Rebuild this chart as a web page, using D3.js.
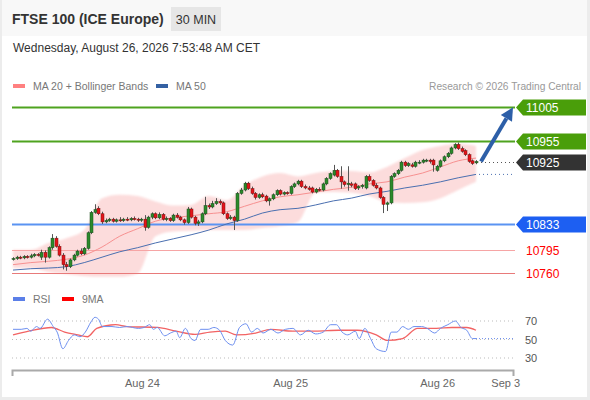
<!DOCTYPE html>
<html>
<head>
<meta charset="utf-8">
<script src="https://cdn.jsdelivr.net/npm/d3@7"></script>
<style>
  body { margin: 0; background: #fff; font-family: "Liberation Sans", Arial, sans-serif; }
  svg { display: block; }
</style>
</head>
<body>
<svg width="590" height="400"></svg>
<script>
// 30 min candles, [open, high, low, close]
var ohlc = [
  [10781,10784,10779,10782],[10782,10786,10780,10784],[10784,10786,10781,10783],[10783,10787,10781,10785],
  [10785,10787,10782,10784],[10784,10789,10782,10786],[10786,10790,10784,10788],[10788,10790,10785,10787],
  [10784,10795,10780,10791],[10791,10794,10776,10784],[10784,10800,10782,10798],[10798,10818,10795,10812],
  [10812,10815,10798,10800],[10800,10803,10785,10787],[10787,10790,10766,10773],[10773,10777,10764,10770],
  [10770,10782,10768,10780],[10780,10789,10778,10787],[10787,10795,10785,10793],[10793,10797,10787,10789],
  [10789,10799,10787,10797],[10797,10822,10795,10820],[10820,10852,10818,10850],[10850,10862,10848,10854],
  [10856,10859,10846,10848],[10848,10851,10833,10836],[10836,10841,10834,10838],[10838,10842,10836,10840],
  [10840,10842,10835,10837],[10837,10841,10835,10839],[10839,10843,10836,10838],[10838,10842,10836,10840],
  [10840,10843,10837,10839],[10839,10843,10837,10841],[10841,10844,10838,10840],[10840,10842,10836,10839],
  [10839,10842,10836,10840],[10840,10846,10823,10828],[10828,10845,10826,10843],[10843,10850,10840,10848],
  [10848,10850,10840,10842],[10842,10850,10840,10847],[10847,10849,10838,10840],[10840,10844,10837,10841],
  [10841,10843,10836,10838],[10838,10848,10836,10846],[10846,10849,10841,10843],[10843,10845,10837,10839],
  [10839,10841,10832,10835],[10835,10858,10833,10855],[10855,10857,10841,10843],[10843,10845,10831,10834],
  [10834,10839,10830,10836],[10836,10850,10834,10848],[10848,10873,10846,10860],[10860,10863,10855,10858],
  [10858,10867,10856,10863],[10863,10871,10861,10866],[10866,10869,10861,10864],[10864,10866,10846,10848],
  [10848,10850,10839,10841],[10841,10846,10839,10843],[10843,10845,10824,10838],[10838,10880,10836,10878],
  [10878,10886,10876,10883],[10883,10895,10881,10893],[10893,10895,10883,10885],[10885,10888,10876,10878],
  [10878,10880,10869,10872],[10872,10878,10870,10876],[10876,10879,10871,10873],[10874,10876,10865,10867],
  [10867,10872,10860,10870],[10870,10878,10868,10876],[10876,10884,10874,10882],[10882,10884,10875,10877],
  [10877,10881,10875,10879],[10879,10881,10876,10878],[10878,10890,10876,10888],[10888,10894,10886,10892],
  [10892,10898,10890,10896],[10896,10898,10886,10888],[10888,10891,10884,10886],[10886,10889,10882,10884],
  [10886,10888,10878,10880],[10880,10886,10878,10884],[10884,10887,10881,10883],[10883,10894,10881,10892],
  [10892,10902,10890,10900],[10900,10909,10898,10907],[10905,10920,10903,10912],[10912,10914,10901,10903],
  [10903,10918,10885,10895],[10895,10897,10888,10891],[10891,10918,10882,10893],[10892,10895,10887,10890],
  [10892,10894,10883,10885],[10886,10890,10883,10888],[10888,10892,10885,10890],[10886,10905,10884,10903],
  [10903,10906,10895,10897],[10897,10899,10888,10890],[10890,10893,10884,10886],[10886,10888,10870,10872],
  [10872,10874,10849,10862],[10862,10866,10852,10864],[10864,10905,10862,10903],[10903,10909,10901,10907],
  [10907,10914,10905,10912],[10912,10926,10910,10924],[10924,10926,10917,10919],[10919,10924,10917,10922],
  [10920,10923,10916,10918],[10918,10926,10916,10924],[10923,10927,10921,10924],[10924,10929,10922,10927],
  [10926,10929,10924,10927],[10927,10929,10922,10925],[10927,10929,10910,10920],[10912,10920,10910,10918],
  [10918,10928,10916,10926],[10926,10934,10924,10932],[10932,10939,10930,10937],[10937,10947,10935,10945],
  [10945,10952,10943,10950],[10950,10953,10942,10944],[10944,10947,10938,10940],[10941,10943,10933,10935],
  [10935,10937,10923,10925],[10926,10928,10920,10922],[10923,10927,10921,10925]
];

// indicators read every 5 bars
var bandIdx = d3.range(0, 131, 5);
var ma20 = [10773,10776,10778,10781,10787,10799,10815,10826,10837,10842,10845,10848,10851,10859,
  10867,10873,10876,10880,10884,10887,10892,10895,10902,10908,10917,10926,10930];
var upperBand = [10795,10795,10805,10812,10824,10871,10876,10874,10866,10860,10861,10874,10868,10890,
  10903,10908,10903,10908,10911,10911,10909,10917,10930,10942,10948,10951,10948];
var lowerBand = [10768,10768,10762,10759,10756,10755,10755,10760,10815,10822,10823,10824,10824,10824,
  10827,10830,10836,10879,10880,10879,10874,10865,10864,10865,10871,10883,10895];
var ma50 = [10765,10767,10768,10770,10776,10784,10792,10798,10805,10811,10817,10824,10833,10840,
  10849,10854,10856,10861,10867,10871,10877,10881,10886,10890,10895,10901,10906];

var levels = [11005, 10955, 10925, 10833, 10795, 10760];
var target = 11005;

// [bar, value]
var rsi = [[0,61],[2.3,61],[3.9,62],[5,59],[6.6,64],[7.6,62],[9.7,72],[11.3,64],[12.4,58],[14,40],
  [15.6,49],[17.2,55],[18.8,53],[20.3,58],[21.9,69],[23,74],[24,72],[25.1,64],[27.8,64],[29.9,63],
  [32,64],[35.2,62],[36.8,63],[38.4,66],[39.4,61],[40.5,63],[42.6,54],[44.2,57],[45.8,59],[46.8,52],
  [48.4,62],[50,51],[51.1,49],[52.7,61],[54.8,61],[56.4,63],[58,60],[59.6,49],[61.7,44],[63.6,63],
  [65.4,67],[67,58],[68.6,62],[70.2,57],[72.4,61],[74.4,57],[76.5,61],[78.6,62],[80.7,55],[82.9,60],
  [85,56],[87.1,58],[89.2,66],[90.8,66],[92.4,58],[94,55],[96.1,59],[97.2,51],[98.8,62],[100.4,51],
  [102,40],[104.6,37],[106.2,58],[107.8,58],[109.4,64],[111,61],[112.6,64],[114.7,64],[116.3,62],
  [118.4,57],[120,62],[122.1,66],[124.2,70],[125.8,63],[127.4,60],[129,51],[130,51]];
var rsiMa = [[0,55],[4.4,59],[10.8,63],[14.5,58],[18.2,55],[20.9,53],[23.5,62],[28.8,66],[32,64],
  [40.5,63],[45.8,59],[51.1,55.5],[55.3,58],[59.6,59],[62.7,55],[68.1,57],[72.4,61],[78.6,59],[85,59],
  [91.4,60],[96.7,60],[102,55],[105.1,49],[109.4,51],[113.6,62],[118.9,62],[123.2,63],[127.4,63],[130,60]];
var rsiTicks = [70, 50, 30];

var dayBars = [36.2, 77.8, 119.1, 138.2];
var dayLabels = ["Aug 24", "Aug 25", "Aug 26", "Sep 3"];

var svg = d3.select("svg");
var font = '"Liberation Sans", Arial, sans-serif';

// frame
svg.append("rect").attr("width", 590).attr("height", 400).attr("fill", "#ececec");
svg.append("rect").attr("x", 2).attr("y", 0).attr("width", 585).attr("height", 397).attr("fill", "#fff");
svg.append("rect").attr("x", 2).attr("y", 0).attr("width", 585).attr("height", 36).attr("fill", "#f8f8f8");

// header
svg.append("text").attr("x", 12).attr("y", 24).attr("font-family", font)
  .attr("font-size", 14).attr("font-weight", "bold").attr("fill", "#333")
  .text("FTSE 100 (ICE Europe)");
svg.append("rect").attr("x", 171).attr("y", 7).attr("width", 50).attr("height", 24)
  .attr("fill", "#e6e6e6");
svg.append("text").attr("x", 196).attr("y", 24).attr("text-anchor", "middle")
  .attr("font-family", font).attr("font-size", 12.5).attr("fill", "#333").text("30 MIN");
svg.append("text").attr("x", 13).attr("y", 52).attr("font-family", font)
  .attr("font-size", 12).attr("fill", "#333")
  .text("Wednesday, August 26, 2026 7:53:48 AM CET");

// legend
function legend(g, xs, yy, color, label) {
  g.append("rect").attr("x", xs).attr("y", yy - 2).attr("width", 12).attr("height", 4).attr("fill", color);
  g.append("text").attr("x", xs + 20).attr("y", yy + 4).attr("font-family", font)
    .attr("font-size", 10.5).attr("fill", "#777").text(label);
}
legend(svg, 13, 86, "#ff8080", "MA 20 + Bollinger Bands");
legend(svg, 156, 86, "#3461a3", "MA 50");
svg.append("text").attr("x", 581).attr("y", 90).attr("text-anchor", "end")
  .attr("font-family", font).attr("font-size", 10.2).attr("fill", "#999")
  .text("Research \u00a9 2026 Trading Central");
legend(svg, 13, 299, "#5b7fe8", "RSI");
legend(svg, 62, 299, "#f00", "9MA");

// scales
var x = d3.scaleLinear().domain([0, 130]).range([13, 476]);
var y = d3.scaleLinear().domain([10743, 11023]).range([285, 95]);
var yR = d3.scaleLinear().domain([30, 70]).range([358, 321]);
var xEnd = 515;

// bollinger band
var defs = svg.append("defs");
defs.append("filter").attr("id", "soft").append("feGaussianBlur").attr("stdDeviation", 1.2);
var bandData = bandIdx.map(function(b, i) { return [b, upperBand[i], lowerBand[i]]; });
svg.append("path").datum(bandData)
  .attr("d", d3.area().x(function(d) { return x(d[0]); })
    .y0(function(d) { return y(d[2]); }).y1(function(d) { return y(d[1]); })
    .curve(d3.curveMonotoneX))
  .attr("fill", "#fcdcdc").attr("filter", "url(#soft)");

// level lines
var levelStyle = {
  11005: { line: "#4fa31f", w: 2, box: "#4a9e0a" },
  10955: { line: "#4fa31f", w: 2, box: "#4a9e0a" },
  10925: { line: "#555", w: 1, box: "#333", dotted: true },
  10833: { line: "#5a93f2", w: 2, box: "#1d5ff2" },
  10795: { line: "#f6a5a5", w: 1.2, text: "#f00" },
  10760: { line: "#e87a7a", w: 1.2, text: "#f00" }
};
levels.forEach(function(v) {
  var s = levelStyle[v], yy = Math.round(y(v)) + 0.5;
  if (s.dotted) {
    svg.append("line").attr("x1", x(130) + 5).attr("x2", xEnd).attr("y1", yy).attr("y2", yy)
      .attr("stroke", s.line).attr("stroke-dasharray", "1,3");
  } else {
    svg.append("line").attr("x1", 12).attr("x2", xEnd).attr("y1", yy).attr("y2", yy)
      .attr("stroke", s.line).attr("stroke-width", s.w);
  }
  if (s.box) {
    svg.append("path")
      .attr("d", "M516," + yy + "L523," + (yy - 8) + "H586V" + (yy + 8) + "H523Z")
      .attr("fill", s.box);
    svg.append("text").attr("x", 526).attr("y", yy + 4.5).attr("font-family", font)
      .attr("font-size", 12).attr("fill", "#fff").text(v);
  } else {
    svg.append("text").attr("x", 526).attr("y", yy + 4.5).attr("font-family", font)
      .attr("font-size", 12).attr("fill", s.text).text(v);
  }
});

// moving averages
var line = d3.line().x(function(d) { return x(d[0]); }).y(function(d) { return y(d[1]); })
  .curve(d3.curveMonotoneX);
svg.append("path").datum(bandIdx.map(function(b, i) { return [b, ma50[i]]; }))
  .attr("d", line).attr("fill", "none").attr("stroke", "#4a6fb0").attr("stroke-width", 1);
svg.append("line").attr("x1", x(130) + 3).attr("x2", xEnd)
  .attr("y1", y(ma50[ma50.length - 1])).attr("y2", y(ma50[ma50.length - 1]))
  .attr("stroke", "#4a6fb0").attr("stroke-dasharray", "1,3");
svg.append("path").datum(bandIdx.map(function(b, i) { return [b, ma20[i]]; }))
  .attr("d", line).attr("fill", "none").attr("stroke", "#f79090").attr("stroke-width", 1);

// candles
var candle = svg.append("g").selectAll("g").data(ohlc).enter().append("g");
candle.append("line")
  .attr("x1", function(d, i) { return Math.round(x(i)) + 0.5; })
  .attr("x2", function(d, i) { return Math.round(x(i)) + 0.5; })
  .attr("y1", function(d) { return y(d[1]); })
  .attr("y2", function(d) { return y(d[2]); })
  .attr("stroke", "#555").attr("stroke-width", 1);
candle.append("rect")
  .attr("x", function(d, i) { return Math.round(x(i)) - 1; })
  .attr("width", 3)
  .attr("y", function(d) { return y(Math.max(d[0], d[3])); })
  .attr("height", function(d) { return Math.max(1, Math.abs(y(d[0]) - y(d[3]))); })
  .attr("fill", function(d) { return d[3] >= d[0] ? "#2b8a2b" : "#e3151a"; })
  .attr("stroke", function(d) { return d[3] >= d[0] ? "#1d4d1d" : "#7a1010"; })
  .attr("stroke-width", 0.5);

// target arrow
var x0 = x(130) + 5, y0 = y(10925), x1 = 513, y1 = y(target);
var ang = Math.atan2(y1 - y0, x1 - x0), hl = 13, hw = 6.5;
var bx = x1 - hl * Math.cos(ang), by = y1 - hl * Math.sin(ang);
svg.append("line").attr("x1", x0).attr("y1", y0).attr("x2", bx).attr("y2", by)
  .attr("stroke", "#2d5fa8").attr("stroke-width", 4);
svg.append("path")
  .attr("d", "M" + x1 + "," + y1 +
    "L" + (bx + hw * Math.sin(ang)) + "," + (by - hw * Math.cos(ang)) +
    "L" + (bx - hw * Math.sin(ang)) + "," + (by + hw * Math.cos(ang)) + "Z")
  .attr("fill", "#2d5fa8");

// RSI panel
rsiTicks.forEach(function(t) {
  svg.append("line").attr("x1", 12).attr("x2", xEnd).attr("y1", yR(t)).attr("y2", yR(t))
    .attr("stroke", "#bbb").attr("stroke-dasharray", "1,3");
  svg.append("text").attr("x", 525).attr("y", yR(t) + 4).attr("font-family", font)
    .attr("font-size", 11).attr("fill", "#555").text(t);
});
var rline = d3.line().x(function(d) { return x(d[0]); }).y(function(d) { return yR(d[1]); })
  .curve(d3.curveMonotoneX);
svg.append("path").datum(rsiMa).attr("d", rline).attr("fill", "none")
  .attr("stroke", "#f04848").attr("stroke-width", 1.3).attr("opacity", 0.85);
svg.append("path").datum(rsi).attr("d", rline).attr("fill", "none")
  .attr("stroke", "#6d8ff0").attr("stroke-width", 1);
svg.append("line").attr("x1", x(130)).attr("x2", xEnd)
  .attr("y1", yR(rsi[rsi.length - 1][1])).attr("y2", yR(rsi[rsi.length - 1][1]))
  .attr("stroke", "#6d8ff0").attr("stroke-dasharray", "1,2");

// time axis
var xa = d3.scaleLinear().domain([x.invert(12), x.invert(513)]).range([12, 513]);
var axis = svg.append("g").attr("transform", "translate(0,370)")
  .call(d3.axisBottom(xa).tickValues(dayBars)
    .tickFormat(function(d, i) { return dayLabels[i]; })
    .tickSizeInner(0).tickSizeOuter(6).tickPadding(9));
axis.select(".domain").attr("stroke", "#aaa").attr("stroke-width", 2);
axis.selectAll("text").attr("font-family", font).attr("font-size", 11).attr("fill", "#666");
</script>
</body>
</html>
